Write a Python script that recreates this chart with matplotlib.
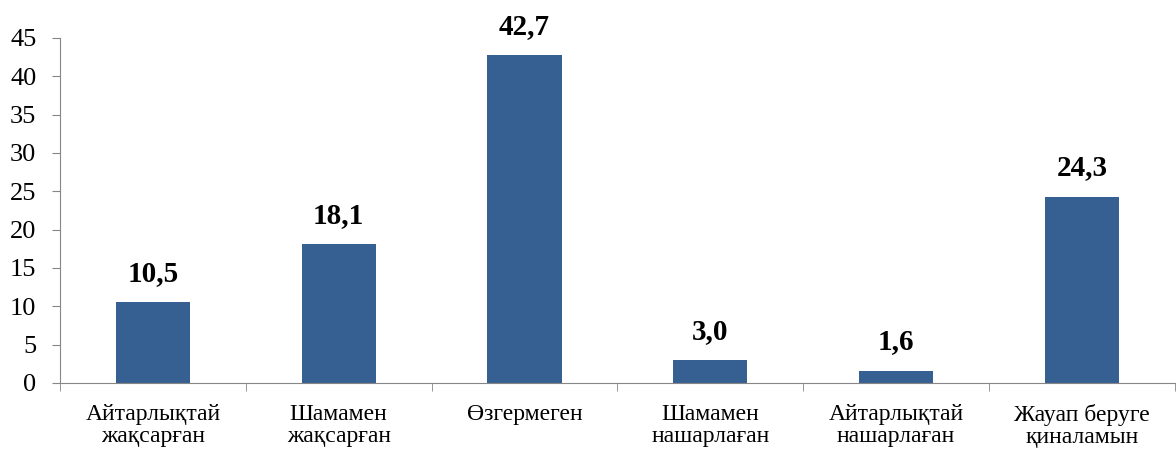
import numpy as np
import matplotlib.pyplot as plt

# данные
categories = ["Айтарлықтай\nжақсарған", "Шамамен\nжақсарған", "Өзгермеген",
              "Шамамен\nнашарлаған", "Айтарлықтай\nнашарлаған", "Жауап беруге\nқиналамын"]
values = [10.5, 18.1, 42.7, 3.0, 1.6, 24.3]
y_ticks = [0, 5, 10, 15, 20, 25, 30, 35, 40, 45]

plt.rcParams['font.family'] = ['Liberation Serif', 'DejaVu Serif']

fig = plt.figure(figsize=(11.76, 4.5), dpi=100)
ax = fig.add_axes([0.051, 0.149, 0.948, 0.767])

x = np.arange(len(categories))
ax.bar(x, values, width=0.4, color="#376092")

for xi, v in zip(x, values):
    ax.text(xi, v + 2.0, f"{v:.1f}".replace(".", ","), ha="center", va="bottom",
            fontsize=21, fontweight="bold")

ax.set_xlim(-0.5, len(categories) - 0.5)
ax.set_ylim(0, 45)
ax.set_yticks(y_ticks)
ax.tick_params(axis="y", labelsize=19, length=6, color="#868686", pad=11)
ax.set_xticks(x)
ax.set_xticklabels(categories, fontsize=17, linespacing=1.1)
ax.set_xticks(np.arange(len(categories) + 1) - 0.5, minor=True)
ax.tick_params(axis="x", which="major", length=0, pad=15)
ax.tick_params(axis="x", which="minor", length=6, color="#868686")

for s in ["top", "right"]:
    ax.spines[s].set_visible(False)
for s in ["left", "bottom"]:
    ax.spines[s].set_color("#868686")

fig.savefig("out.png", dpi=100)
